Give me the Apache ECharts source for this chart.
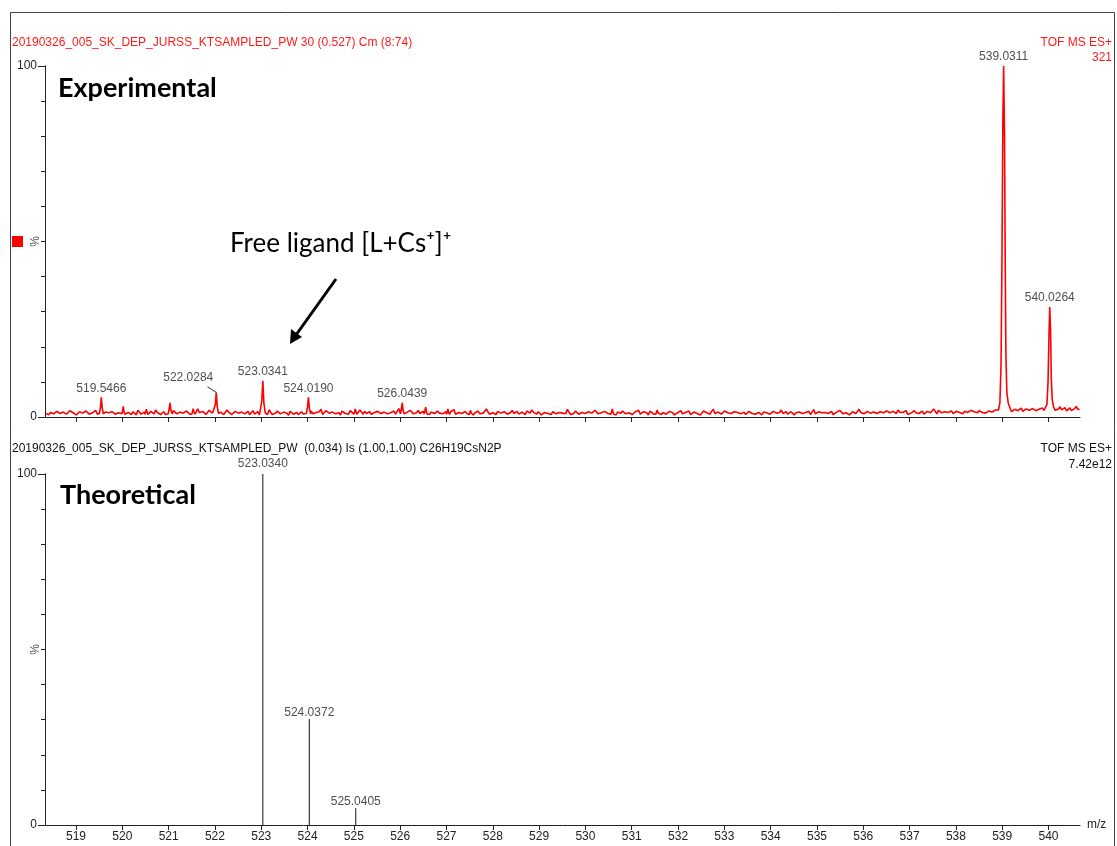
<!DOCTYPE html>
<html>
<head>
<meta charset="utf-8">
<script src="https://cdn.jsdelivr.net/npm/echarts@6/dist/echarts.min.js"></script>
<style>
  html, body { margin: 0; padding: 0; background: #ffffff; }
  #chart { width: 1117px; height: 846px; }
</style>
</head>
<body>
<div id="chart"></div>
<script>
// m/z range shown on both panels and the labelled integer ticks
const xMin = 518.33;
const xMax = 540.68;
const mzTicks = [519, 520, 521, 522, 523, 524, 525, 526, 527, 528, 529, 530,
                 531, 532, 533, 534, 535, 536, 537, 538, 539, 540];

// Experimental profile: baseline noise (% intensity), two interleaved sample sets 0.07 m/z apart
const noiseStart = 518.34;
const noiseStep = 0.07;
const noisePct = [
  1.1,0.6,1.5,0.8,1.9,0.7,1.2,0.5,1.6,1.0,0.7,1.4,0.9,2.1,0.6,1.3,0.8,1.7,0.6,1.1,
  0.9,1.6,0.7,1.3,2.2,0.8,1.0,1.5,0.6,1.8,0.9,1.2,0.5,1.4,2.0,0.8,1.1,0.7,1.6,1.0,
  1.3,0.6,1.9,0.9,1.2,0.7,1.5,2.3,0.8,1.1,0.6,1.7,1.0,0.8,1.4,0.7,2.0,1.1,0.6,1.3,
  0.8,1.5,1.0,0.7,1.8,1.2,0.6,1.4,0.9,2.1,0.7,1.1,1.6,0.8,1.3,0.5,1.9,1.0,0.7,1.5,
  1.2,0.8,1.7,0.6,1.0,2.2,0.9,1.3,0.7,1.6,1.1,0.6,1.4,0.9,1.8,0.7,1.2,2.0,0.8,1.0,
  1.5,0.7,1.1,1.8,0.6,1.3,0.9,1.6,0.8,2.4,1.0,0.7,1.2,1.5,0.6,1.9,0.9,1.1,0.7,1.4,
  1.0,1.7,0.8,1.2,0.6,1.5,2.1,0.9,1.3,0.7,1.0,1.8,0.6,1.4,0.9,1.1,2.3,0.8,1.2,0.7,
  1.6,0.9,1.1,0.6,1.9,1.0,0.8,1.4,0.7,1.2,2.0,0.9,1.5,0.6,1.3,1.0,0.7,1.7,1.1,0.8,
  1.3,2.2,0.7,1.0,1.6,0.8,1.2,0.6,1.8,0.9,1.4,0.7,1.1,2.1,0.8,1.5,0.6,1.0,1.7,0.9,
  1.2,0.7,1.5,1.9,0.8,1.1,0.6,1.4,1.0,2.0,0.7,1.3,0.9,1.6,0.6,1.2,1.8,0.8,1.1,0.7,
  1.4,1.0,0.6,1.7,1.2,0.8,2.2,0.9,1.3,0.7,1.5,1.1,0.6,1.9,0.9,1.2,0.7,1.6,1.0,0.8,
  1.3,0.6,1.8,1.1,0.7,1.4,0.9,2.0,1.2,0.8,1.5,0.6,1.1,1.7,0.9,1.3,0.7,2.1,1.0,1.2,
  0.8,1.6,1.1,0.7,1.3,1.9,0.9,1.2,0.6,1.5,1.0,2.2,0.8,1.4,1.1,0.7,1.7,0.9,1.3,1.0,
  1.5,0.8,1.2,2.0,0.9,1.4,0.7,1.1,1.8,1.0,1.3,0.8,1.6,1.2,2.3,0.9,1.4,1.1,1.9,1.2,
  1.0,1.6,1.3,0.9,2.1,1.2,1.5,1.0,1.8,1.3,1.1,1.7,1.4,2.0,1.2,1.6,2.4,1.9,1.5,2.2,
  1.8,2.5,1.4,2.1,1.7,2.8,1.6,2.3,1.9,2.6,1.5,2.2,1.8,2.9,2.4,1.7,2.6,2.0,3.0,2.3
];
const noisePctB = [
  0.7,1.3,0.9,1.6,1.0,1.4,0.8,1.8,1.2,0.6,1.5,1.1,1.7,0.8,1.2,1.9,1.0,0.7,1.4,1.2,
  1.5,0.8,1.2,1.0,1.7,1.3,0.7,1.1,1.9,0.8,1.4,1.0,1.6,0.9,1.3,0.7,1.5,1.2,0.9,1.8,
  0.9,1.4,1.1,1.7,0.8,1.3,1.0,1.2,1.6,0.7,1.9,1.1,0.8,1.5,1.2,1.0,1.4,0.7,1.6,1.1,
  1.4,0.9,1.6,1.2,0.8,1.5,1.1,1.9,0.7,1.3,1.0,1.7,0.9,1.4,1.1,1.6,0.8,1.3,1.2,0.9,
  1.0,1.6,0.9,1.3,1.5,0.7,1.8,1.1,1.4,0.9,1.2,1.7,1.0,0.8,1.5,1.3,0.9,1.4,1.6,1.1,
  0.8,1.3,1.6,1.0,1.4,0.9,1.2,1.7,1.1,0.8,1.5,1.3,1.9,0.9,1.2,1.0,1.6,1.4,0.8,1.3,
  1.4,1.1,0.9,1.5,1.2,1.8,0.8,1.3,1.0,1.6,1.4,0.9,1.2,1.7,1.1,0.8,1.5,1.3,1.0,1.6,
  1.1,1.5,0.8,1.3,1.0,1.6,1.2,0.9,1.7,1.1,1.4,0.8,1.3,1.0,1.8,1.2,1.5,0.9,1.3,1.1,
  0.9,1.4,1.2,1.7,0.8,1.3,1.0,1.5,1.1,1.9,0.9,1.2,1.6,1.0,1.3,0.8,1.4,1.1,1.5,1.2,
  1.6,1.0,1.3,0.8,1.5,1.2,1.7,0.9,1.4,1.1,1.3,0.8,1.6,1.2,1.0,1.5,0.9,1.3,1.7,1.0,
  1.2,1.5,0.9,1.3,1.1,1.6,1.0,1.4,0.8,1.7,1.2,1.0,1.5,1.3,0.9,1.4,1.1,1.8,1.0,1.3,
  1.0,1.4,1.2,0.8,1.6,1.1,1.3,1.0,1.5,0.9,1.8,1.2,1.4,1.0,1.3,1.6,1.1,0.9,1.5,1.2,
  1.3,1.0,1.6,1.2,0.9,1.5,1.1,1.4,1.0,1.7,1.2,1.3,0.9,1.6,1.1,1.4,1.0,1.5,1.2,1.7,
  1.2,1.6,1.0,1.4,1.3,1.8,1.1,1.5,1.2,1.0,1.7,1.3,1.4,1.1,1.6,1.9,1.2,1.5,1.3,1.7,
  1.4,1.8,1.2,1.6,1.3,1.9,1.5,1.2,1.7,1.4,1.6,2.0,1.3,1.8,1.5,1.7,2.1,1.6,1.9,1.8,
  2.0,1.6,2.3,1.9,2.4,1.8,2.2,2.6,1.7,2.1,2.5,1.9,2.3,2.0,2.7,2.2,1.8,2.4,2.1,2.6
];

// Experimental peak apexes (m/z, % intensity)
const expApexMz  = [519.5466, 520.02, 520.52, 521.03, 521.53, 522.0284, 523.0341, 524.0190,
                    525.03, 526.0439, 526.55, 527.03, 527.52, 530.58, 531.55, 539.0311, 540.0264];
const expApexPct = [5.6, 3.0, 2.2, 4.0, 2.4, 7.0, 10.3, 5.6,
                    2.3, 4.0, 2.8, 2.3, 1.9, 2.3, 2.0, 100, 31.3];

// Leading and trailing flank points of each experimental peak
const expLeftFlanks = [
  [[519.505,1.0],[519.528,2.8]],
  [[519.99,0.9],[520.005,1.8]],
  [[520.49,0.8],[520.505,1.4]],
  [[520.99,0.9],[521.01,2.2]],
  [[521.50,0.8],[521.515,1.5]],
  [[521.985,1.0],[522.008,3.5]],
  [[522.99,1.1],[523.012,4.5]],
  [[523.975,1.0],[523.998,2.8]],
  [[525.00,0.8],[525.015,1.5]],
  [[526.005,0.9],[526.025,2.2]],
  [[526.52,0.9],[526.535,1.8]],
  [[527.00,0.8],[527.015,1.4]],
  [[527.49,0.7],[527.505,1.2]],
  [[530.55,0.8],[530.565,1.5]],
  [[531.52,0.8],[531.535,1.3]],
  [[538.92,2.0],[538.95,4.0],[538.975,15],[538.995,45],[539.015,85]],
  [[539.93,2.0],[539.965,3.5],[539.99,10],[540.008,22]]
];
const expRightFlanks = [
  [[519.565,2.6],[519.59,0.9]],
  [[520.035,1.6],[520.055,0.8]],
  [[520.535,1.3],[520.555,0.7]],
  [[521.048,2.0],[521.075,0.9]],
  [[521.545,1.4],[521.57,0.8]],
  [[522.048,3.2],[522.075,1.0]],
  [[523.055,4.2],[523.085,1.2]],
  [[524.038,2.6],[524.065,0.9]],
  [[525.045,1.4],[525.065,0.8]],
  [[526.062,2.0],[526.085,0.9]],
  [[526.565,1.6],[526.585,0.8]],
  [[527.045,1.3],[527.065,0.7]],
  [[527.535,1.1],[527.555,0.7]],
  [[530.595,1.4],[530.615,0.8]],
  [[531.565,1.2],[531.585,0.8]],
  [[539.05,80],[539.065,45],[539.08,18],[539.10,7],[539.13,4],[539.17,2.5]],
  [[540.045,24],[540.06,11],[540.08,5],[540.11,2.8]]
];

// Peaks that carry an m/z annotation in the experimental panel
const expLabelledMz = [519.5466, 522.0284, 523.0341, 524.0190, 526.0439, 539.0311, 540.0264];

// Theoretical isotope pattern for C26H19CsN2P
const theoMz  = [523.0340, 524.0372, 525.0405];
const theoPct = [100, 30.2, 4.8];

// ---- assemble the experimental profile ----
const peakPts = [];
const windows = [];
expApexMz.forEach((mz, i) => {
  const left = expLeftFlanks[i], right = expRightFlanks[i];
  windows.push([left[0][0], right[right.length - 1][0]]);
  left.forEach(p => peakPts.push(p));
  peakPts.push([mz, expApexPct[i]]);
  right.forEach(p => peakPts.push(p));
});
const rawBase = noisePct.map((v, i) => [+(noiseStart + i * noiseStep).toFixed(3), v])
  .concat(noisePctB.map((v, i) => [+(noiseStart + noiseStep / 2 + i * noiseStep).toFixed(3), v]));
const basePts = rawBase
  .filter(p => p[0] <= xMax)
  .filter(p => !windows.some(w => p[0] >= w[0] - 0.01 && p[0] <= w[1] + 0.01));
const expProfile = basePts.concat(peakPts).sort((a, b) => a[0] - b[0]);

const expLabelData = expLabelledMz.map(mz => {
  const i = expApexMz.indexOf(mz);
  const item = { value: [mz, expApexPct[i]] };
  if (mz === 522.0284) {
    item.label = { offset: [-28, -6] };
  }
  return item;
});
// short leader from the shifted 522.0284 annotation down to its peak
const leaderIdx = expApexMz.indexOf(522.0284);
const leaderData = [[521.84, 8.6], [expApexMz[leaderIdx], expApexPct[leaderIdx]]];

const labelFont = { fontFamily: 'Liberation Sans, Arial, sans-serif', fontSize: 12, color: '#222' };
const axisColor = '#222';

function xAxisFor(gridIndex, showLabels) {
  return {
    type: 'value', gridIndex, min: xMin, max: xMax, position: 'bottom',
    axisLine: { show: true, lineStyle: { color: axisColor, width: 1 } },
    axisTick: { show: true, length: 5, customValues: mzTicks, lineStyle: { color: axisColor } },
    axisLabel: showLabels
      ? Object.assign({ show: true, customValues: mzTicks, margin: 6 }, labelFont, { color: '#222' })
      : { show: false },
    splitLine: { show: false },
    name: showLabels ? 'm/z' : '',
    nameLocation: 'end',
    nameGap: 7,
    nameTextStyle: Object.assign({}, labelFont, { padding: [0, 0, 10, 0] })
  };
}
function yMainFor(gridIndex) {
  return {
    type: 'value', gridIndex, min: 0, max: 100, interval: 10, position: 'left',
    axisLine: { show: true, lineStyle: { color: axisColor, width: 1 } },
    axisTick: { show: true, length: 4, lineStyle: { color: axisColor } },
    axisLabel: { show: false },
    splitLine: { show: false },
    name: '%', nameLocation: 'middle', nameGap: 3, nameRotate: 90,
    nameTextStyle: Object.assign({}, labelFont, { color: '#556' })
  };
}
function yEndsFor(gridIndex) {
  return {
    type: 'value', gridIndex, min: 0, max: 100, position: 'left', offset: 0,
    axisLine: { show: true, lineStyle: { color: axisColor, width: 1 } },
    axisTick: { show: true, length: 7, customValues: [0, 100], lineStyle: { color: axisColor } },
    axisLabel: Object.assign({ show: true, customValues: [0, 100], margin: 8 }, labelFont),
    splitLine: { show: false }
  };
}

const series = [
  {
    type: 'line', xAxisIndex: 0, yAxisIndex: 0, data: expProfile,
    symbol: 'none', clip: true,
    lineStyle: { color: '#ff0000', width: 1.6 }
  },
  {
    type: 'line', xAxisIndex: 0, yAxisIndex: 0, data: leaderData,
    symbol: 'none', lineStyle: { color: '#333', width: 1 }
  },
  {
    type: 'scatter', xAxisIndex: 0, yAxisIndex: 0, data: expLabelData,
    symbolSize: 0,
    label: Object.assign({
      show: true, position: 'top', distance: 3,
      formatter: p => p.value[0].toFixed(4)
    }, labelFont)
  }
];
theoMz.forEach((mz, i) => {
  series.push({
    type: 'line', xAxisIndex: 1, yAxisIndex: 2,
    data: [[mz, 0], [mz, theoPct[i]]],
    symbol: 'none', lineStyle: { color: '#111', width: 1 }
  });
});
series.push({
  type: 'scatter', xAxisIndex: 1, yAxisIndex: 2,
  data: theoMz.map((mz, i) => ({
    value: [mz, theoPct[i]],
    label: { distance: i === 0 ? 4 : 0 }
  })),
  symbolSize: 0,
  label: Object.assign({
    show: true, position: 'top',
    formatter: p => p.value[0].toFixed(4)
  }, labelFont)
});

const headFont = '12px "Liberation Sans", Arial, sans-serif';
const graphic = [
  // outer frame
  { type: 'polyline', shape: { points: [[10.5, 846], [10.5, 12.5], [1114.5, 12.5], [1114.5, 846]] },
    style: { stroke: '#444', lineWidth: 1, fill: null } },
  // experimental header
  { type: 'text', left: 12, top: 37,
    style: { text: '20190326_005_SK_DEP_JURSS_KTSAMPLED_PW 30 (0.527) Cm (8:74)', font: headFont, fill: '#ff1a1a' } },
  { type: 'text', right: 5, top: 37,
    style: { text: 'TOF MS ES+', font: headFont, fill: '#ff1a1a', align: 'right' } },
  { type: 'text', right: 5, top: 52,
    style: { text: '321', font: headFont, fill: '#ff1a1a', align: 'right' } },
  // theoretical header
  { type: 'text', left: 12, top: 443,
    style: { text: '20190326_005_SK_DEP_JURSS_KTSAMPLED_PW  (0.034) Is (1.00,1.00) C26H19CsN2P', font: headFont, fill: '#111' } },
  { type: 'text', right: 5, top: 443,
    style: { text: 'TOF MS ES+', font: headFont, fill: '#111', align: 'right' } },
  { type: 'text', right: 5, top: 459,
    style: { text: '7.42e12', font: headFont, fill: '#111', align: 'right' } },
  // red trace marker
  { type: 'rect', shape: { x: 12, y: 236, width: 11, height: 11 }, style: { fill: '#ff0000' } },
  // panel titles
  { type: 'text', left: 58, top: 75,
    style: { text: 'Experimental', font: 'bold 27px Lato, "Open Sans", sans-serif', fill: '#000' } },
  { type: 'text', left: 60, top: 482,
    style: { text: 'Theoretical', font: 'bold 27px Lato, "Open Sans", sans-serif', fill: '#000' } },
  // free ligand annotation with arrow
  { type: 'text', left: 230, top: 231,
    style: { text: 'Free ligand [L+Cs\u207A]\u207A', font: '26px Lato, "Open Sans", sans-serif', fill: '#000' } },
  { type: 'line', shape: { x1: 336, y1: 279, x2: 296, y2: 335 },
    style: { stroke: '#000', lineWidth: 3 } },
  { type: 'polygon', shape: { points: [[290, 344], [291, 329], [302, 337]] },
    style: { fill: '#000' } }
];

const chart = echarts.init(document.getElementById('chart'));
chart.setOption({
  animation: false,
  backgroundColor: '#ffffff',
  grid: [
    { left: 45, width: 1035, top: 66, height: 351 },
    { left: 45, width: 1035, top: 474, height: 351 }
  ],
  xAxis: [xAxisFor(0, false), xAxisFor(1, true)],
  yAxis: [yMainFor(0), yEndsFor(0), yMainFor(1), yEndsFor(1)],
  series,
  graphic
});
</script>
</body>
</html>
